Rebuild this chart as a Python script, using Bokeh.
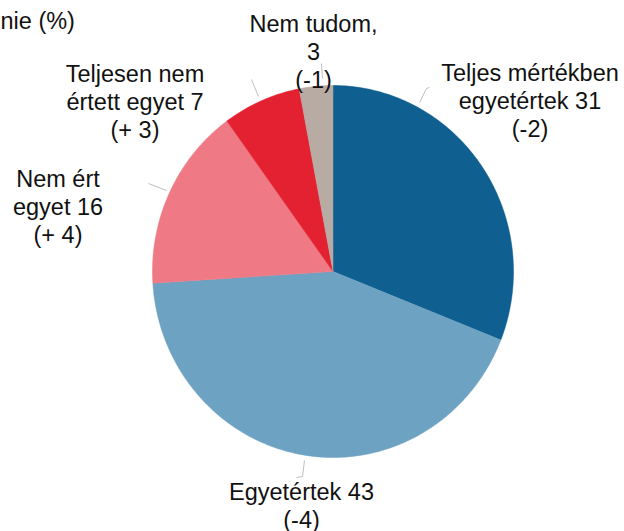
import math
from bokeh.plotting import figure
from bokeh.models import Range1d, ColumnDataSource
from bokeh.core.properties import value
from bokeh.embed import file_html
from bokeh.resources import INLINE

# data
categories = ["Teljes mértékben egyetértek", "Egyetértek", "Nem ért egyet",
              "Teljesen nem értett egyet", "Nem tudom"]
values = [31, 43, 16, 7, 3]
changes = ["(-2)", "(-4)", "(+ 4)", "(+ 3)", "(-1)"]
label_lines = [
    ["Teljes mértékben", "egyetértek 31", "(-2)"],
    ["Egyetértek 43", "(-4)"],
    ["Nem ért", "egyet 16", "(+ 4)"],
    ["Teljesen nem", "értett egyet 7", "(+ 3)"],
    ["Nem tudom,", "3", "(-1)"],
]
colors = ["#0F5F91", "#6DA2C2", "#EF7985", "#E32131", "#B7ABA3"]

W, H = 624, 531
OFF = 0
def X(ix):
    return ix - OFF
def Y(iy):
    return H + OFF - iy

p = figure(width=W, height=H, output_backend="svg", toolbar_location=None,
           x_range=Range1d(0, W), y_range=Range1d(0, H), min_border=0)
p.axis.visible = False
p.grid.visible = False
p.outline_line_color = None
p.background_fill_color = "white"

cx, cy, rx, ry = X(332.5), Y(271), 180.5, 186
total = sum(values)
xs_all, ys_all = [], []
cum = 0
for v in values:
    a0 = math.pi / 2 - 2 * math.pi * cum / total
    cum += v
    a1 = math.pi / 2 - 2 * math.pi * cum / total
    n = max(8, int(v * 4))
    px, py = [cx], [cy]
    for k in range(n + 1):
        a = a0 + (a1 - a0) * k / n
        px.append(cx + rx * math.cos(a))
        py.append(cy + ry * math.sin(a))
    xs_all.append(px)
    ys_all.append(py)

src = ColumnDataSource(dict(xs=xs_all, ys=ys_all, color=colors, cat=categories, val=values))
p.patches(xs="xs", ys="ys", fill_color="color", line_color="color", line_width=0.5, source=src)

# leader lines (image coords)
leaders = [
    [(419, 102), (426, 88), (429, 87)],
    [(304, 460), (302, 476), (296, 477)],
    [(166, 190), (148, 183)],
    [(258, 96), (251, 79)],
    [(322, 78), (321, 63)],
]
for pts in leaders:
    p.line([X(a) for a, b in pts], [Y(b) for a, b in pts], line_color="#BFBFBF", line_width=1)

# labels: center x, first-line center y (image coords)
label_pos = [(529.5, 72), (301, 491), (57.5, 178), (134.5, 73), (313, 23)]
line_h = 28
for (lx, ly), lines in zip(label_pos, label_lines):
    xs, ys, ts = [], [], []
    for i, t in enumerate(lines):
        xs.append(X(lx))
        ys.append(Y(ly + i * line_h))
        ts.append(t)
    p.text(x=xs, y=ys, text=ts, text_align="center", text_baseline="middle",
           text_font=value("Liberation Sans"), text_font_size="23.5px", text_color="#111111")

p.text(x=[X(0)], y=[Y(20)], text=["nie (%)"], text_align="left", text_baseline="middle",
       text_font=value("Liberation Sans"), text_font_size="23.5px", text_color="#111111")

open("out.html", "w").write(file_html(p, INLINE))
